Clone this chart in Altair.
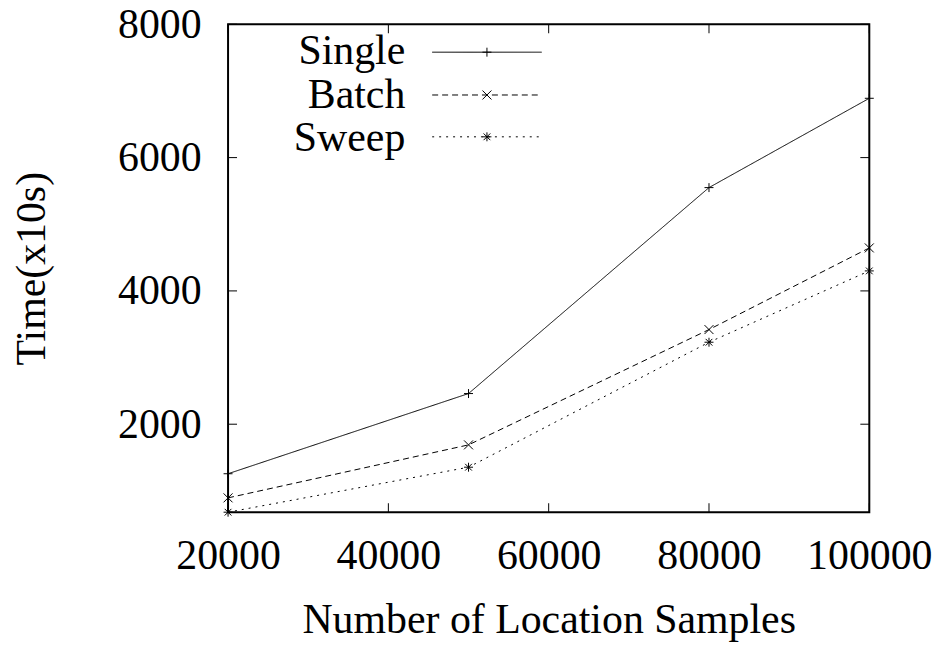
import altair as alt
import pandas as pd

# ---- data ----
samples = [20000, 50000, 80000, 100000]
series_names = ["Single", "Batch", "Sweep"]
single = [1257, 2460, 5550, 6890]
batch = [895, 1690, 3420, 4645]
sweep = [680, 1355, 3230, 4300]
x_ticks = [20000, 40000, 60000, 80000, 100000]
y_ticks = [2000, 4000, 6000, 8000]

x_title = "Number of Location Samples"
y_title = "Time(x10s)"

rows = []
for name, vals in zip(series_names, [single, batch, sweep]):
    for s, v in zip(samples, vals):
        rows.append({"samples": s, "time": v, "series": name})
df = pd.DataFrame(rows)

W, H = 644, 490
TOP = 15
FONT = "Liberation Serif"
FS = 42

x_dom = [min(samples), max(samples)]
y_dom = [min(sweep), 8000]

shape_paths = [
    "M-1,0L1,0M0,-1L0,1",
    "M-1,-1L1,1M-1,1L1,-1",
    "M-1,0L1,0M0,-1L0,1M-0.75,-0.75L0.75,0.75M-0.75,0.75L0.75,-0.75",
]
dashes = [[1, 0], [6, 4], [2, 5]]

xs = alt.Scale(domain=x_dom, nice=False, zero=False)
ys = alt.Scale(domain=y_dom, nice=False, zero=False)

X = alt.X("samples:Q", scale=xs,
          axis=alt.Axis(values=x_ticks, format="d", ticks=False, domain=False, grid=False,
                        labelFont=FONT, labelFontSize=FS, labelColor="black",
                        labelPadding=24, labelFlush=False, labelOverlap=False,
                        title=x_title, titleFont=FONT, titleFontSize=FS,
                        titleFontWeight="normal", titleColor="black",
                        titleBaseline="alphabetic", titleY=121))
Y = alt.Y("time:Q", scale=ys,
          axis=alt.Axis(values=y_ticks, format="d", ticks=False, domain=False, grid=False,
                        labelFont=FONT, labelFontSize=FS, labelColor="black",
                        labelPadding=27, labelFlush=False, labelOverlap=False,
                        title=y_title, titleFont=FONT, titleFontSize=FS,
                        titleFontWeight="normal", titleColor="black",
                        titleBaseline="middle", titleX=-197, titleY=H / 2,
                        titleAngle=-90))

base = alt.Chart(df)

lines = base.mark_line(color="black", strokeWidth=1).encode(
    x=X, y=Y,
    detail="series:N",
    strokeDash=alt.StrokeDash("series:N", scale=alt.Scale(domain=series_names, range=dashes), legend=None),
)

points = base.mark_point(filled=False, color="black", strokeWidth=1, size=81, opacity=1).encode(
    x=alt.X("samples:Q", scale=xs),
    y=alt.Y("time:Q", scale=ys),
    shape=alt.Shape("series:N", scale=alt.Scale(domain=series_names, range=shape_paths), legend=None),
)

# inward ticks on all four sides
xt = pd.DataFrame({"v": x_ticks})
yt = pd.DataFrame({"v": y_ticks})
TL = 9
tick_bottom = alt.Chart(xt).mark_rule(color="black", strokeWidth=1).encode(
    x=alt.X("v:Q", scale=xs), y=alt.value(H), y2=alt.value(H - TL))
tick_top = alt.Chart(xt).mark_rule(color="black", strokeWidth=1).encode(
    x=alt.X("v:Q", scale=xs), y=alt.value(0), y2=alt.value(TL))
tick_left = alt.Chart(yt).mark_rule(color="black", strokeWidth=1).encode(
    y=alt.Y("v:Q", scale=ys), x=alt.value(0), x2=alt.value(TL))
tick_right = alt.Chart(yt).mark_rule(color="black", strokeWidth=1).encode(
    y=alt.Y("v:Q", scale=ys), x=alt.value(W), x2=alt.value(W - TL))

# gnuplot-style key (label, then line sample with marker)
legend_layers = []
off = 21 - (8 + TOP)
line_y = [30 + off, 73 + off, 115 + off]
text_y = [42 + off, 86 + off, 129 + off]
for i, name in enumerate(series_names):
    ld = alt.Data(values=[{"s": name}])
    legend_layers.append(
        alt.Chart(ld).mark_text(font=FONT, fontSize=FS, align="right", baseline="alphabetic", color="black")
        .encode(text="s:N", x=alt.value(178), y=alt.value(text_y[i])))
    legend_layers.append(
        alt.Chart(ld).mark_rule(color="black", strokeWidth=1, strokeDash=dashes[i])
        .encode(x=alt.value(205), x2=alt.value(315), y=alt.value(line_y[i])))
    legend_layers.append(
        alt.Chart(ld).mark_point(filled=False, color="black", strokeWidth=1, size=81, opacity=1,
                                 shape=shape_paths[i])
        .encode(x=alt.value(260), y=alt.value(line_y[i])))

chart = alt.layer(
    lines, points, tick_bottom, tick_top, tick_left, tick_right, *legend_layers
).properties(
    width=W, height=H,
    autosize=alt.AutoSizeParams(type="none"),
    padding={"left": 221, "top": TOP, "right": 70, "bottom": 131},
).configure(
    background="white",
    view=alt.ViewConfig(stroke="black", strokeWidth=2),
)

chart.save("out.html", embed_options={"renderer": "svg", "actions": False})
